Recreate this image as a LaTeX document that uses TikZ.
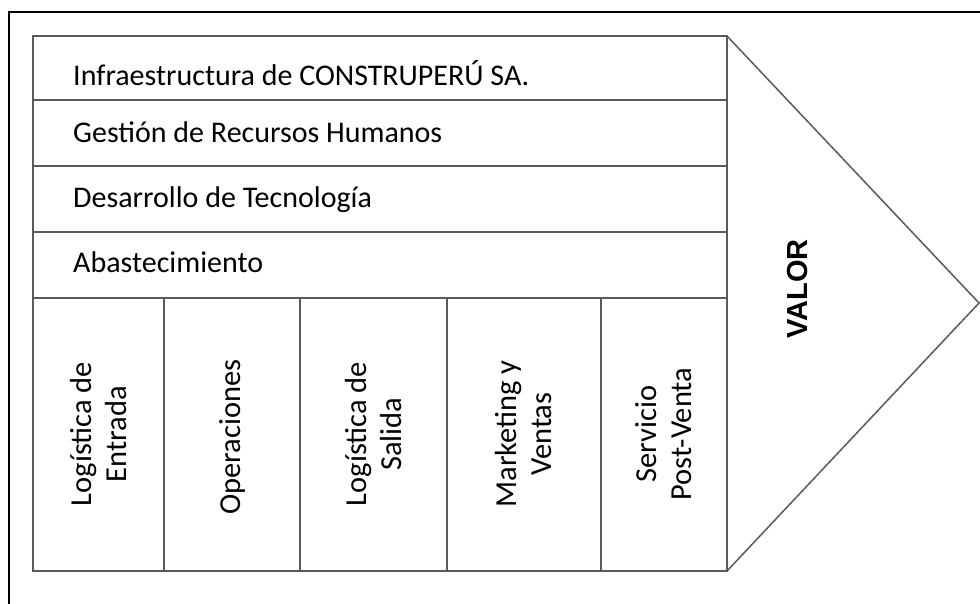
\documentclass[tikz,border=0pt]{standalone}
\usepackage{fontspec}
\setmainfont{Carlito}
\newfontfamily\valorfont{Liberation Sans}
\definecolor{linegray}{HTML}{5A5A5A}
\begin{document}
\begin{tikzpicture}[x=1pt,y=-1pt,
  gridline/.style={draw=linegray,line width=1.5pt},
  rowtext/.style={anchor=base west,inner sep=0pt,font=\fontsize{30}{32}\selectfont},
  coltext/.style={rotate=90,align=center,inner sep=0pt,font=\fontsize{30.5}{35}\selectfont},
  valortext/.style={rotate=90,inner sep=0pt,font=\valorfont\bfseries\fontsize{29}{32}\selectfont}]
\useasboundingbox (0,0) rectangle (980,603);
\clip (0,0) rectangle (980,603);
% outer frame
\draw[line width=2pt,black] (9,12) rectangle (1000,640);
% main block
\draw[gridline] (33,36) rectangle (727,571);
\draw[gridline] (33,100) -- (727,100);
\draw[gridline] (33,166) -- (727,166);
\draw[gridline] (33,232) -- (727,232);
\draw[gridline] (33,298) -- (727,298);
\draw[gridline] (164,298) -- (164,571);
\draw[gridline] (300,298) -- (300,571);
\draw[gridline] (447,298) -- (447,571);
\draw[gridline] (601,298) -- (601,571);
% chevron
\draw[gridline,line join=miter] (727,36) -- (979,303) -- (727,571);
% support activities
\node[rowtext] (infra) at (73,85) {Infraestructura de CONSTRUPERÚ SA.};
\node[rowtext] (rrhh) at (73,142) {Gestión de Recursos Humanos};
\node[rowtext] (tec) at (73,207) {Desarrollo de Tecnología};
\node[rowtext] (abas) at (73,272) {Abastecimiento};
% primary activities
\node[coltext] (log1) at (98.5,434) {Logística de\\Entrada};
\node[coltext] (ope) at (232,437) {Operaciones};
\node[coltext] (log2) at (373.5,434) {Logística de\\Salida};
\node[coltext] (mkt) at (524,434) {Marketing y\\Ventas};
\node[coltext] (serv) at (664,434) {Servicio\\Post-Venta};
% value
\node[valortext] (valor) at (798,289) {VALOR};
\end{tikzpicture}
\end{document}
